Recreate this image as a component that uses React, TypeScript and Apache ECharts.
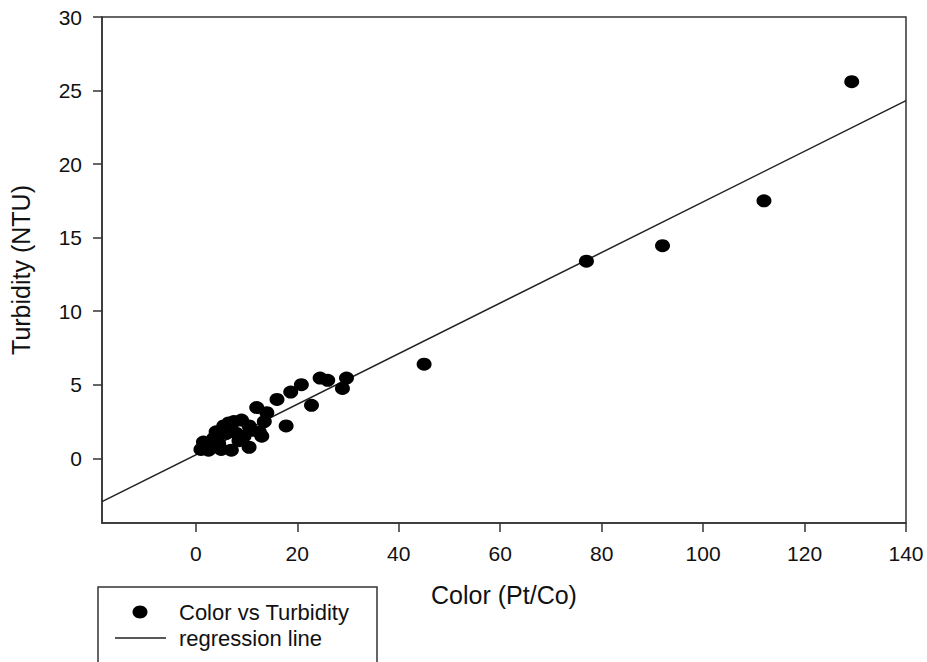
import React, { useEffect, useRef } from "react";
import * as echarts from "echarts";

const colorValues = [
  1.0, 1.5, 2.5, 3.0, 3.5, 4.0, 4.5, 5.0, 5.5, 6.0, 6.5, 7.0, 7.5, 8.0, 8.5, 9.0, 9.5,
  10.5, 10.5, 11.0, 12.0, 12.5, 13.0, 13.5, 14.0, 16.0, 17.8, 18.7, 20.8, 22.8, 24.5,
  26.0, 28.9, 29.7, 45.0, 77.0, 92.0, 112.0, 129.3,
];
const turbidityValues = [
  0.6, 1.1, 0.55, 0.8, 1.35, 1.8, 1.0, 0.6, 2.2, 1.7, 2.4, 0.55, 2.5, 1.7, 1.2, 2.6, 1.5,
  0.75, 2.2, 1.9, 3.45, 1.8, 1.5, 2.5, 3.1, 4.0, 2.2, 4.5, 5.0, 3.6, 5.45,
  5.3, 4.75, 5.45, 6.4, 13.4, 14.45, 17.5, 25.6,
];
const xTicks = [0, 20, 40, 60, 80, 100, 120, 140];
const yTicks = [0, 5, 10, 15, 20, 25, 30];
const regSlope = 0.172;
const regIntercept = 0.23;
const xRange = [-18.5, 140];
const yRange = [-4.4, 30];
const legendLabels = ["Color vs Turbidity", "regression line"];

export default function App() {
  const ref = useRef<HTMLDivElement>(null);
  useEffect(() => {
    if (!ref.current) return;
    const chart = echarts.init(ref.current, null, { renderer: "svg" });
    const pts = colorValues.map((c, i) => [c, turbidityValues[i]]);
    const line = xRange.map((x) => [x, regIntercept + regSlope * x]);
    const axisColor = "#333";
    const font = "Liberation Sans, Arial, sans-serif";
    chart.setOption({
      animation: false,
      backgroundColor: "#fff",
      grid: {
        left: 102,
        right: 21,
        top: 17,
        bottom: 139,
        show: true,
        borderColor: axisColor,
        borderWidth: 1.5,
      },
      graphic: [
        {
          type: "rect",
          shape: { x: 98, y: 587, width: 279, height: 95 },
          style: { fill: "none", stroke: axisColor, lineWidth: 1.5 },
          silent: true,
        },
        {
          type: "ellipse",
          shape: { cx: 140, cy: 612, rx: 7.5, ry: 6.5 },
          style: { fill: "#000" },
          silent: true,
        },
        {
          type: "text",
          x: 179,
          y: 612,
          style: {
            text: legendLabels[0],
            fontFamily: font,
            fontSize: 22,
            fill: "#111",
            verticalAlign: "middle",
          },
          silent: true,
        },
        {
          type: "line",
          shape: { x1: 115, y1: 638, x2: 166, y2: 638 },
          style: { stroke: "#222", lineWidth: 1.5 },
          silent: true,
        },
        {
          type: "text",
          x: 179,
          y: 638,
          style: {
            text: legendLabels[1],
            fontFamily: font,
            fontSize: 22,
            fill: "#111",
            verticalAlign: "middle",
          },
          silent: true,
        },
      ],
      xAxis: {
        type: "value",
        min: xRange[0],
        max: xRange[1],
        name: "Color (Pt/Co)",
        nameLocation: "middle",
        nameGap: 59,
        nameTextStyle: { fontFamily: font, fontSize: 25, color: "#111" },
        splitLine: { show: false },
        axisLine: { onZero: false, lineStyle: { color: axisColor, width: 1.5 } },
        axisTick: { show: true, length: 9, customValues: xTicks, lineStyle: { color: axisColor, width: 1.5 } },
        axisLabel: {
          customValues: xTicks,
          margin: 20,
          fontFamily: font,
          fontSize: 21,
          color: "#111",
        },
      },
      yAxis: {
        type: "value",
        min: yRange[0],
        max: yRange[1],
        name: "Turbidity (NTU)",
        nameLocation: "middle",
        nameGap: 69,
        nameTextStyle: { fontFamily: font, fontSize: 25, color: "#111" },
        splitLine: { show: false },
        axisLine: { onZero: false, lineStyle: { color: axisColor, width: 1.5 } },
        axisTick: { show: true, length: 9, customValues: yTicks, lineStyle: { color: axisColor, width: 1.5 } },
        axisLabel: {
          customValues: yTicks,
          margin: 20,
          fontFamily: font,
          fontSize: 21,
          color: "#111",
        },
      },
      series: [
        {
          name: legendLabels[0],
          type: "scatter",
          data: pts,
          symbol: "circle",
          symbolSize: [15, 13],
          itemStyle: { color: "#000", opacity: 1 },
          z: 3,
        },
        {
          name: legendLabels[1],
          type: "line",
          data: line,
          symbol: "none",
          lineStyle: { color: "#222", width: 1.5 },
          z: 2,
        },
      ],
    });
    return () => chart.dispose();
  }, []);
  return (
    <div
      ref={ref}
      style={{ position: "fixed", left: 0, top: 0, width: 927, height: 662 }}
    />
  );
}
